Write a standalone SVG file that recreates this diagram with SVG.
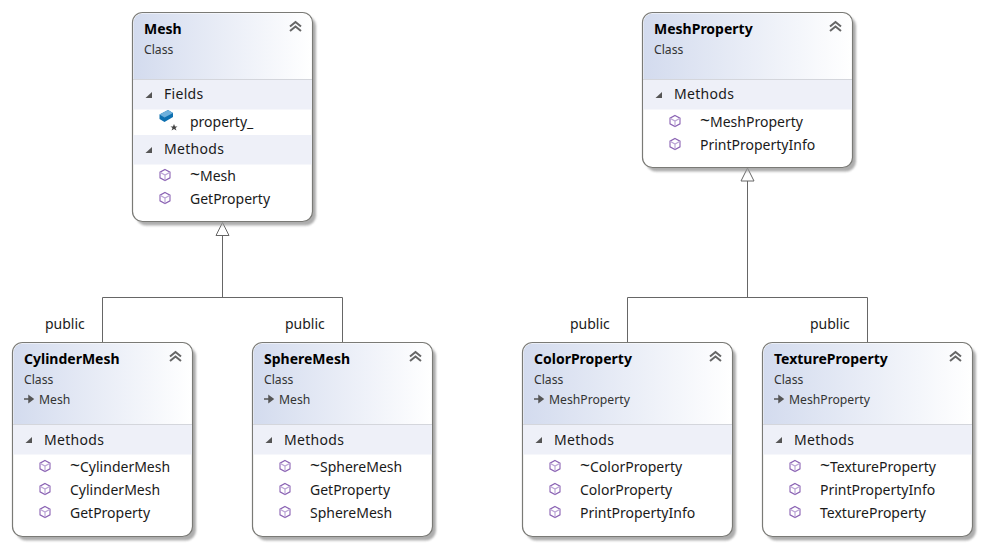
<svg xmlns="http://www.w3.org/2000/svg" width="983" height="548" viewBox="0 0 983 548">
<style>
text{font-family:"Noto Sans","Open Sans","Liberation Sans",sans-serif;fill:#1a1a1a;font-size:14px}
.t{font-weight:bold;font-size:14px;fill:#000}
.s{font-size:12.200px;fill:#333}
.h{letter-spacing:.3px}
.w{font-size:17.500px}
.box{fill:#fff;stroke:#7a7a76;stroke-width:1.200}
.shadow{fill:#999;opacity:.8;filter:url(#blur)}
.band{fill:#eef0f8}
.div{stroke:#d4d6dc;stroke-width:1}
.conn{fill:none;stroke:#666;stroke-width:1}
.head{fill:#fff;stroke:#666;stroke-width:1}
</style>
<defs>
<filter id="blur" x="-5%" y="-5%" width="110%" height="110%"><feGaussianBlur stdDeviation="1.200"/></filter>
<linearGradient id="hg" x1="0" y1="0" x2="1" y2="0"><stop offset="0" stop-color="#d3dbee"/><stop offset="1" stop-color="#fff"/></linearGradient>
<g id="chev"><path d="M-5.500 -.5 L0 -5 L5.500 -.5 M-5.500 4 L0 -.5 L5.500 4" fill="none" stroke="#666" stroke-width="2"/></g>
<path id="tri" d="M-3.500 3 L3 3 L3 -3 Z" fill="#555"/>
<g id="m" fill="none" stroke="#8a62b3" stroke-width="1.100"><path d="M0 -5.500 L5 -2.800 L5 2.800 L0 5.500 L-5 2.800 L-5 -2.800 Z"/><path d="M-5 -2.800 L0 0 L5 -2.800 M0 0 L0 5.500" stroke="#b9a2d4"/></g>
<g id="f"><path d="M-5.500 -1.500 L3 -6 L8 -3 L8 1 L-.5 6 L-5.500 3 Z" fill="#0e70b0"/><path d="M-5.500 -1.500 L3 -6 L8 -3 L-.5 1.500 Z" fill="#6db0dc"/><path d="M9 8 l1 2.500 l2.500 0 l-2 1.500 l1 2.500 l-2.500 -1.500 l-2.500 1.500 l1 -2.500 l-2 -1.500 l2.500 0 Z" fill="#444"/></g>
<g id="inh"><path d="M0 0 H8 M5 -3 L9 0 L5 3 Z" fill="#555" stroke="#555" stroke-width="1.500"/></g>
</defs>

<g id="connectors">
<path class="conn" d="M222.500 236 V297.500 M102.500 343 V297.500 H342.500 V343"/>
<path class="head" d="M222.500 222.500 L216 235.500 H229 Z"/>
<path class="conn" d="M747.500 181 V297.500 M627.500 343 V297.500 H867.500 V343"/>
<path class="head" d="M747.500 168 L741 181 H754 Z"/>
<text x="45" y="329">public</text>
<text x="285" y="329">public</text>
<text x="570" y="329">public</text>
<text x="810" y="329">public</text>
</g>

<g id="mesh">
<rect class="shadow" x="136" y="16" width="180" height="209.500" rx="10"/>
<rect class="box" x="132.500" y="12.500" width="180" height="209" rx="10"/>
<path d="M133.500 79 V22.500 a9 9 0 0 1 9 -9 H302.500 a9 9 0 0 1 9 9 V79 Z" fill="url(#hg)"/>
<line class="div" x1="133" y1="79.500" x2="312" y2="79.500"/>
<rect class="band" x="133" y="80" width="179" height="29.500"/>
<rect class="band" x="133" y="135" width="179" height="29.500"/>
<text class="t" x="144" y="34">Mesh</text><text class="s" x="144" y="54">Class</text>
<use href="#chev" x="295.500" y="27"/>
<use href="#tri" x="149" y="95"/><text class="h" x="164" y="99">Fields</text>
<use href="#f" x="165" y="116"/><text x="190" y="127">property_</text>
<use href="#tri" x="149" y="150"/><text class="h" x="164" y="154">Methods</text>
<use href="#m" x="165" y="175"/><text x="190" y="181"><tspan class="w">~</tspan>Mesh</text>
<use href="#m" x="165" y="198"/><text x="190" y="204">GetProperty</text>
</g>

<g id="meshproperty">
<rect class="shadow" x="646" y="16" width="210" height="155.500" rx="10"/>
<rect class="box" x="642.500" y="12.500" width="210" height="155" rx="10"/>
<path d="M643.500 79 V22.500 a9 9 0 0 1 9 -9 H842.500 a9 9 0 0 1 9 9 V79 Z" fill="url(#hg)"/>
<line class="div" x1="643" y1="79.500" x2="852" y2="79.500"/>
<rect class="band" x="643" y="80" width="209" height="29.500"/>
<text class="t" x="654" y="34">MeshProperty</text><text class="s" x="654" y="54">Class</text>
<use href="#chev" x="835.500" y="27"/>
<use href="#tri" x="659" y="95"/><text class="h" x="674" y="99">Methods</text>
<use href="#m" x="675" y="121"/><text x="700" y="127"><tspan class="w">~</tspan>MeshProperty</text>
<use href="#m" x="675" y="144"/><text x="700" y="150">PrintPropertyInfo</text>
</g>

<g id="cylindermesh">
<rect class="shadow" x="16" y="346.500" width="180" height="194" rx="10"/>
<rect class="box" x="12.500" y="342.500" width="180" height="194" rx="10"/>
<path d="M13.500 424 V352.500 a9 9 0 0 1 9 -9 H182.500 a9 9 0 0 1 9 9 V424 Z" fill="url(#hg)"/>
<line class="div" x1="13" y1="424.500" x2="192" y2="424.500"/>
<rect class="band" x="13" y="425" width="179" height="29.500"/>
<text class="t" x="24" y="364">CylinderMesh</text><text class="s" x="24" y="384">Class</text>
<use href="#inh" x="24" y="399"/><text class="s" x="39" y="404">Mesh</text>
<use href="#chev" x="175.500" y="357"/>
<use href="#tri" x="29" y="440"/><text class="h" x="44" y="445">Methods</text>
<use href="#m" x="45" y="466"/><text x="70" y="472"><tspan class="w">~</tspan>CylinderMesh</text>
<use href="#m" x="45" y="489"/><text x="70" y="495">CylinderMesh</text>
<use href="#m" x="45" y="512"/><text x="70" y="518">GetProperty</text>
</g>

<g id="spheremesh">
<rect class="shadow" x="256" y="346.500" width="180" height="194" rx="10"/>
<rect class="box" x="252.500" y="342.500" width="180" height="194" rx="10"/>
<path d="M253.500 424 V352.500 a9 9 0 0 1 9 -9 H422.500 a9 9 0 0 1 9 9 V424 Z" fill="url(#hg)"/>
<line class="div" x1="253" y1="424.500" x2="432" y2="424.500"/>
<rect class="band" x="253" y="425" width="179" height="29.500"/>
<text class="t" x="264" y="364">SphereMesh</text><text class="s" x="264" y="384">Class</text>
<use href="#inh" x="264" y="399"/><text class="s" x="279" y="404">Mesh</text>
<use href="#chev" x="415.500" y="357"/>
<use href="#tri" x="269" y="440"/><text class="h" x="284" y="445">Methods</text>
<use href="#m" x="285" y="466"/><text x="310" y="472"><tspan class="w">~</tspan>SphereMesh</text>
<use href="#m" x="285" y="489"/><text x="310" y="495">GetProperty</text>
<use href="#m" x="285" y="512"/><text x="310" y="518">SphereMesh</text>
</g>

<g id="colorproperty">
<rect class="shadow" x="526" y="346.500" width="210" height="194" rx="10"/>
<rect class="box" x="522.500" y="342.500" width="210" height="194" rx="10"/>
<path d="M523.500 424 V352.500 a9 9 0 0 1 9 -9 H722.500 a9 9 0 0 1 9 9 V424 Z" fill="url(#hg)"/>
<line class="div" x1="523" y1="424.500" x2="732" y2="424.500"/>
<rect class="band" x="523" y="425" width="209" height="29.500"/>
<text class="t" x="534" y="364">ColorProperty</text><text class="s" x="534" y="384">Class</text>
<use href="#inh" x="534" y="399"/><text class="s" x="549" y="404">MeshProperty</text>
<use href="#chev" x="715.500" y="357"/>
<use href="#tri" x="539" y="440"/><text class="h" x="554" y="445">Methods</text>
<use href="#m" x="555" y="466"/><text x="580" y="472"><tspan class="w">~</tspan>ColorProperty</text>
<use href="#m" x="555" y="489"/><text x="580" y="495">ColorProperty</text>
<use href="#m" x="555" y="512"/><text x="580" y="518">PrintPropertyInfo</text>
</g>

<g id="textureproperty">
<rect class="shadow" x="766" y="346.500" width="210" height="194" rx="10"/>
<rect class="box" x="762.500" y="342.500" width="210" height="194" rx="10"/>
<path d="M763.500 424 V352.500 a9 9 0 0 1 9 -9 H962.500 a9 9 0 0 1 9 9 V424 Z" fill="url(#hg)"/>
<line class="div" x1="763" y1="424.500" x2="972" y2="424.500"/>
<rect class="band" x="763" y="425" width="209" height="29.500"/>
<text class="t" x="774" y="364">TextureProperty</text><text class="s" x="774" y="384">Class</text>
<use href="#inh" x="774" y="399"/><text class="s" x="789" y="404">MeshProperty</text>
<use href="#chev" x="955.500" y="357"/>
<use href="#tri" x="779" y="440"/><text class="h" x="794" y="445">Methods</text>
<use href="#m" x="795" y="466"/><text x="820" y="472"><tspan class="w">~</tspan>TextureProperty</text>
<use href="#m" x="795" y="489"/><text x="820" y="495">PrintPropertyInfo</text>
<use href="#m" x="795" y="512"/><text x="820" y="518">TextureProperty</text>
</g>
</svg>
